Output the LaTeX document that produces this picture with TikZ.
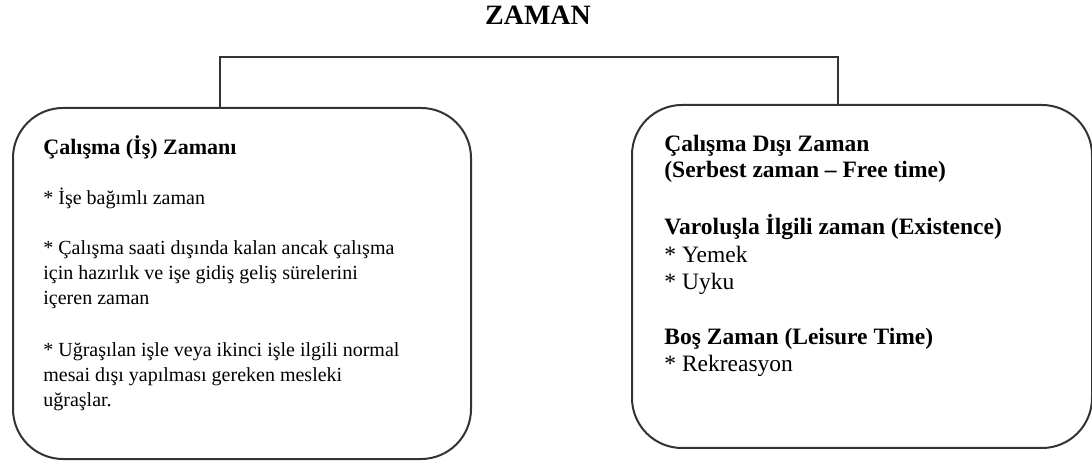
\documentclass[tikz,border=0pt]{standalone}
\usepackage{fontspec}
\setmainfont{Liberation Serif}
\tikzset{
    frame/.style={draw=black!80, line width=1pt, rounded corners=25pt, inner sep=0pt, anchor=north west},
    link/.style={draw=black!80, line width=0.8pt},
    bigtxt/.style={anchor=base west, align=left, inner sep=0pt, font=\fontsize{11.75}{13.75}\selectfont},
    smalltxt/.style={anchor=base west, align=left, inner sep=0pt, font=\fontsize{10}{12.5}\selectfont},
}

\begin{document}
\begin{tikzpicture}[x=0.5pt, y=-0.5pt]
    \useasboundingbox (0,0) rectangle (1092,464);
    \node[anchor=base, inner sep=0pt, font=\bfseries\fontsize{14}{16}\selectfont] (title) at (538,25) {ZAMAN};
    % the two boxes
    \node[frame, minimum width=229pt, minimum height=175.5pt] (work) at (12,107) {};
    \node[frame, minimum width=230pt, minimum height=171.5pt] (free) at (631,104) {};
    % bracket
    \coordinate (wj) at (220,57);
    \coordinate (fj) at (838,57);
    \draw[link] (wj |- work.north) -- (wj) -- (fj) -- (fj |- free.north);
    % left box (multi-line nodes sit on their last line)
    \node[smalltxt, font=\bfseries\fontsize{11}{13}\selectfont] (workhead) at (43,155) {Çalışma (İş) Zamanı};
    \node[smalltxt] (work1) at (43,205) {* İşe bağımlı zaman};
    \node[smalltxt] (work2) at (43,305) {* Çalışma saati dışında kalan ancak çalışma\\için hazırlık ve işe gidiş geliş sürelerini\\içeren zaman};
    \node[smalltxt] (work3) at (43,407) {* Uğraşılan işle veya ikinci işle ilgili normal\\mesai dışı yapılması gereken mesleki\\uğraşlar.};
    % right box
    \node[bigtxt, font=\bfseries\fontsize{11.75}{13}\selectfont] (freehead) at (664,178) {Çalışma Dışı Zaman\\(Serbest zaman – Free time)};
    \node[bigtxt] (exist) at (664,290) {\textbf{Varoluşla İlgili zaman (Existence)}\\* Yemek\\* Uyku};
    \node[bigtxt] (leisure) at (664,372) {\textbf{Boş Zaman (Leisure Time)}\\* Rekreasyon};
\end{tikzpicture}
\end{document}
